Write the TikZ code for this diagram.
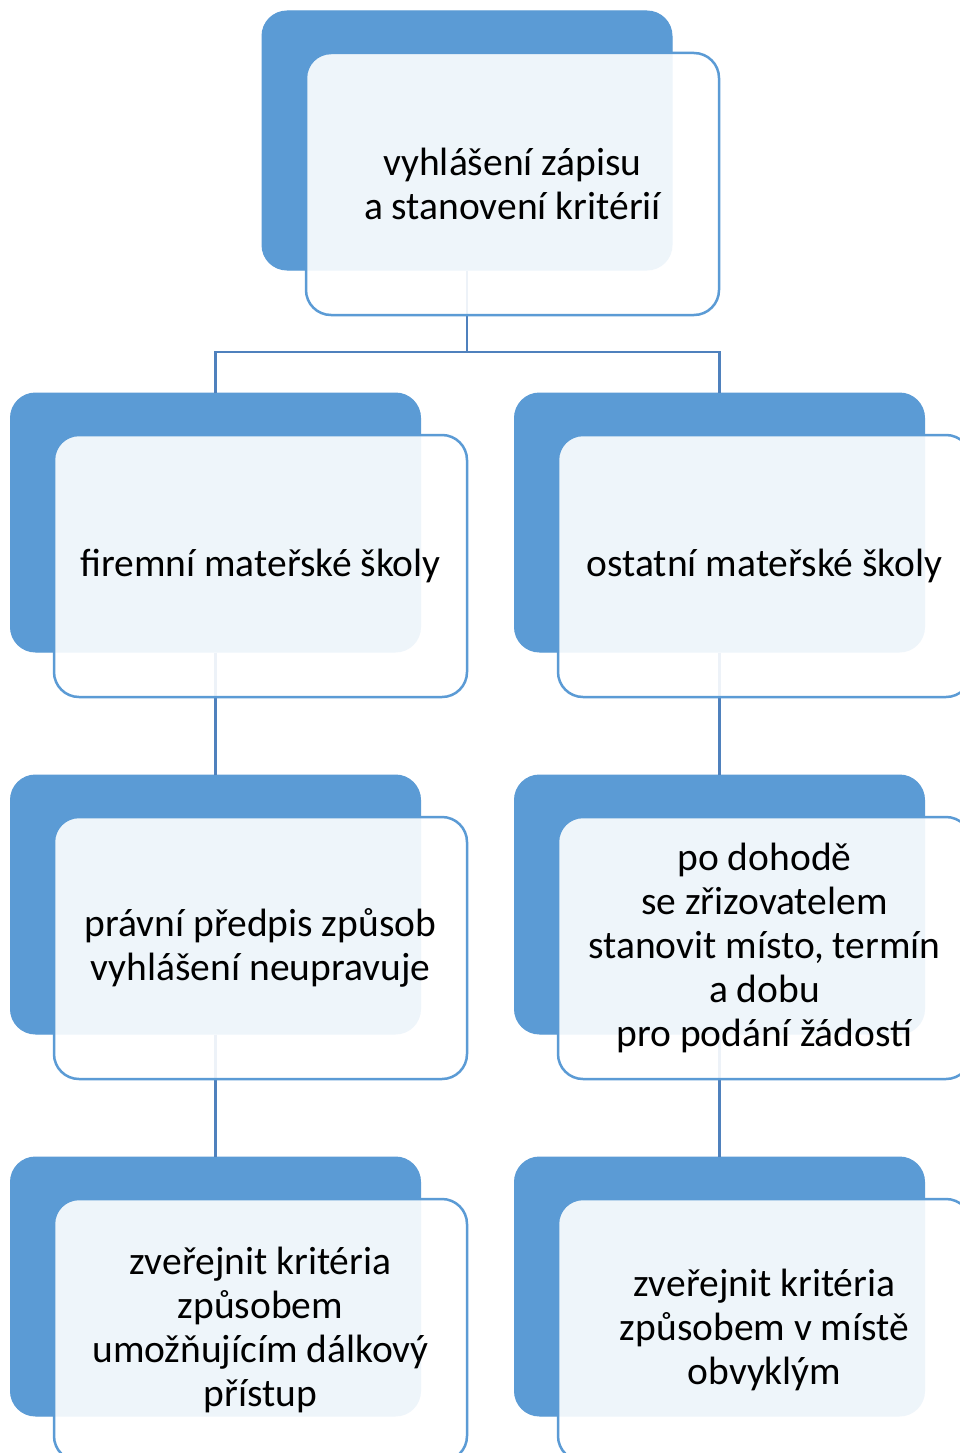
\documentclass[tikz,border=0pt]{standalone}
\usepackage{fontspec}
\setmainfont{Carlito}
\definecolor{darkbl}{HTML}{5B9BD5}
\definecolor{linebl}{HTML}{4F81BD}
\tikzset{
  backbox/.style={draw=darkbl, fill=darkbl, rounded corners=25pt, minimum width=410pt, minimum height=259pt, inner sep=0pt, line width=1pt},
  frontbox/.style={draw=darkbl, line width=2.5pt, fill=white, fill opacity=0.9, text opacity=1, rounded corners=25pt, minimum width=413pt, minimum height=262pt, inner sep=0pt, align=center, font=\fontsize{39.5}{44}\selectfont},
  conn/.style={draw=linebl, line width=2.5pt}
}
\begin{document}
\begin{tikzpicture}[x=1pt,y=-1pt]
\useasboundingbox (0,0) rectangle (960,1453);
\clip (0,0) rectangle (960,1453);
\fill[white] (0,0) rectangle (960,1453);
% back boxes
\node[backbox] (d1) at (467,140.5) {};
\node[backbox] (d2) at (215.5,522.5) {};
\node[backbox] (d3) at (719.5,522.5) {};
\node[backbox] (d4) at (215.5,904.5) {};
\node[backbox] (d5) at (719.5,904.5) {};
\node[backbox] (d6) at (215.5,1286.5) {};
\node[backbox] (d7) at (719.5,1286.5) {};
% connectors
\coordinate (j) at (467,352);
\draw[conn] (d1.south) -- (j) -| (d2.north);
\draw[conn] (j) -| (d3.north);
\draw[conn] (d2.south) -- (d4.north);
\draw[conn] (d3.south) -- (d5.north);
\draw[conn] (d4.south) -- (d6.north);
\draw[conn] (d5.south) -- (d7.north);
% front boxes
\node[frontbox] (l1) at (512.5,184) {vyhlášení zápisu\\a stanovení kritérií};
\node[frontbox] (l2) at (260.5,566) {firemní mateřské školy};
\node[frontbox] (l3) at (764.5,566) {ostatní mateřské školy};
\node[frontbox] (l4) at (260.5,948) {právní předpis způsob\\vyhlášení neupravuje};
\node[frontbox] (l5) at (764.5,948) {po dohodě\\se zřizovatelem\\stanovit místo, termín\\a dobu\\pro podání žádostí};
\node[frontbox] (l6) at (260.5,1330) {zveřejnit kritéria\\způsobem\\umožňujícím dálkový\\přístup};
\node[frontbox] (l7) at (764.5,1330) {zveřejnit kritéria\\způsobem v místě\\obvyklým};
\end{tikzpicture}
\end{document}
